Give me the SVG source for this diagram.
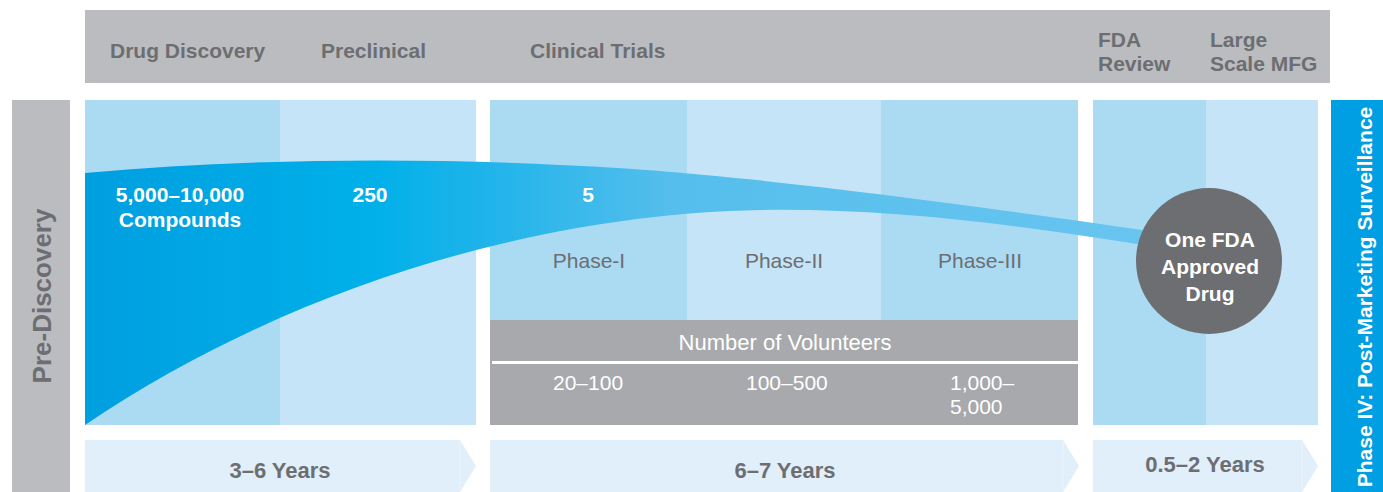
<svg xmlns="http://www.w3.org/2000/svg" width="1383" height="492" viewBox="0 0 1383 492">
  <defs>
    <linearGradient id="funnelGrad" gradientUnits="userSpaceOnUse" x1="85" y1="0" x2="1150" y2="0">
      <stop offset="0" stop-color="#009FE0"/>
      <stop offset="0.27" stop-color="#00B0E9"/>
      <stop offset="0.38" stop-color="#20B4EA"/>
      <stop offset="0.55" stop-color="#55BEEC"/>
      <stop offset="1" stop-color="#68C5EF"/>
    </linearGradient>
    <style>
      .hdr { fill: #BBBCC0; }
      .colA { fill: #ABDAF3; }
      .colB { fill: #C5E4F7; }
      .band { fill: #E0EFFA; }
      .vol { fill: #A7A9AC; }
      text { font-family: "Liberation Sans Narrow", "Liberation Sans", Arial, sans-serif; }
      .h { font-size: 21px; font-weight: bold; fill: #6D6E71; }
      .ph { font-size: 21px; fill: #6D6E71; text-anchor: middle; }
      .w { font-size: 21px; fill: #FFFFFF; }
      .wb { font-size: 21px; font-weight: bold; fill: #FFFFFF; text-anchor: middle; }
      .yr { font-size: 22px; font-weight: bold; fill: #6D6E71; text-anchor: middle; }
    </style>
  </defs>

  <!-- stage header bar -->
  <g id="header">
    <rect class="hdr" x="85" y="10" width="1245" height="73"/>
    <text class="h" x="110" y="58">Drug Discovery</text>
    <text class="h" x="321" y="58">Preclinical</text>
    <text class="h" x="530" y="58">Clinical Trials</text>
    <text class="h" x="1098" y="47">FDA</text>
    <text class="h" x="1098" y="71">Review</text>
    <text class="h" x="1210" y="47">Large</text>
    <text class="h" x="1210" y="71">Scale MFG</text>
  </g>

  <!-- pre-discovery side bar -->
  <g id="pre-discovery">
    <rect class="hdr" x="12" y="100" width="58" height="392"/>
    <text class="h" style="font-size:26px" text-anchor="middle" transform="translate(51,296) rotate(-90)">Pre-Discovery</text>
  </g>

  <!-- discovery + preclinical panel -->
  <g id="discovery-panel">
    <rect class="colA" x="85" y="100" width="195" height="325"/>
    <rect class="colB" x="280" y="100" width="196" height="325"/>
  </g>

  <!-- clinical trials panel -->
  <g id="clinical-panel">
    <rect class="colA" x="490" y="100" width="197" height="220"/>
    <rect class="colB" x="687" y="100" width="194" height="220"/>
    <rect class="colA" x="881" y="100" width="197" height="220"/>
    <text class="ph" x="589" y="268">Phase-I</text>
    <text class="ph" x="784" y="268">Phase-II</text>
    <text class="ph" x="980" y="268">Phase-III</text>
  </g>

  <!-- volunteer counts table -->
  <g id="volunteers">
    <rect class="vol" x="490" y="320" width="588" height="105"/>
    <rect x="492" y="361" width="586" height="3" fill="#FFFFFF"/>
    <text class="w" style="font-size:22px" x="785" y="350" text-anchor="middle">Number of Volunteers</text>
    <text class="w" x="553" y="390">20–100</text>
    <text class="w" x="746" y="390">100–500</text>
    <text class="w" x="950" y="390">1,000–</text>
    <text class="w" x="950" y="414">5,000</text>
  </g>

  <!-- review + manufacturing panel -->
  <g id="review-panel">
    <rect class="colA" x="1093" y="100" width="113" height="325"/>
    <rect class="colB" x="1206" y="100" width="112" height="325"/>
  </g>

  <!-- phase IV side bar -->
  <g id="phase-iv">
    <rect x="1331" y="100" width="52" height="392" fill="#009FE3"/>
    <text style="font-size:21px;font-weight:bold;fill:#FFFFFF" text-anchor="middle" transform="translate(1372,297) rotate(-90)">Phase IV: Post-Marketing Surveillance</text>
  </g>

  <!-- duration arrows -->
  <g id="durations">
    <path class="band" d="M85,440 H460 L476,466 L460,492 H85 Z"/>
    <path class="band" d="M490,440 H1063 L1079,466 L1063,492 H490 Z"/>
    <path class="band" d="M1093,440 H1302 L1318,466 L1302,492 H1093 Z"/>
    <path d="M460,440 V492 M1063,440 V492 M1302,440 V492" stroke="#EBF5FC" stroke-width="1" fill="none"/>
    <text class="yr" x="280" y="478">3–6 Years</text>
    <text class="yr" x="785" y="478">6–7 Years</text>
    <text class="yr" x="1205" y="472">0.5–2 Years</text>
  </g>

  <!-- attrition funnel -->
  <g id="funnel">
    <path fill="url(#funnelGrad)" d="M85,173 C250,158 420,158 560,165 C700,170 900,195 1150,231 L1150,246 C1000,222 880,208 760,210 C550,214 300,280 85,425 Z"/>
    <text class="wb" x="180" y="202">5,000–10,000</text>
    <text class="wb" x="180" y="227">Compounds</text>
    <text class="wb" x="370" y="202">250</text>
    <text class="wb" x="588" y="202">5</text>
  </g>

  <!-- approved drug -->
  <g id="approved">
    <circle cx="1209" cy="261" r="73" fill="#6D6E71"/>
    <text class="wb" x="1210" y="247">One FDA</text>
    <text class="wb" x="1210" y="274">Approved</text>
    <text class="wb" x="1210" y="301">Drug</text>
  </g>
</svg>
